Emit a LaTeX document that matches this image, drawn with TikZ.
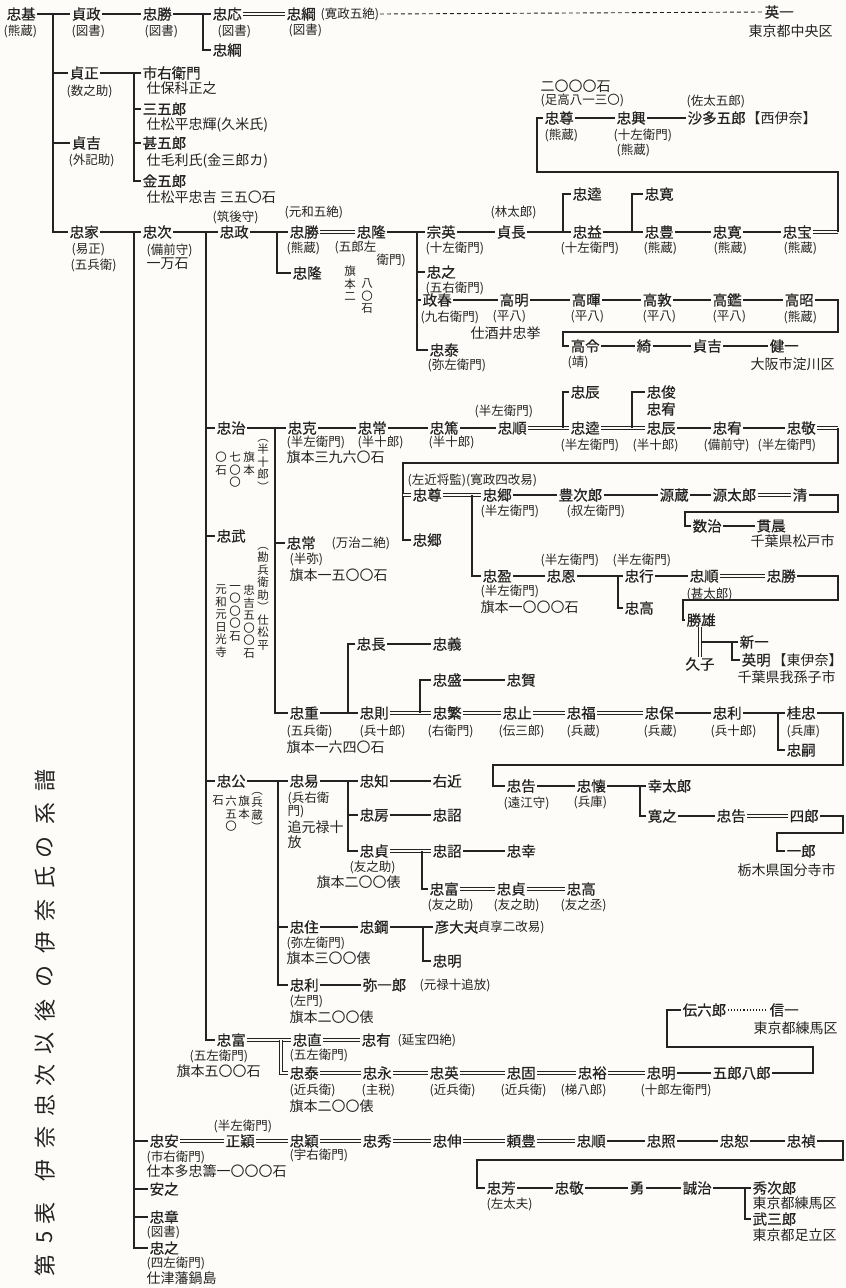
\documentclass[tikz,border=0pt]{standalone}
\usepackage{fontspec}
\setmainfont{Noto Sans CJK JP}
\newfontfamily\nmfont[FakeBold=0.6]{Noto Sans CJK JP}
\definecolor{paper}{RGB}{253,252,248}
\definecolor{ink}{RGB}{35,35,35}
\tikzset{
  nmst/.style={anchor=west,inner xsep=1.5pt,inner ysep=0pt,text=ink,font=\nmfont\fontsize{14.5}{14.5}\selectfont},
  anst/.style={anchor=west,inner xsep=0.5pt,inner ysep=0pt,text=ink,font=\fontsize{12.5}{12.5}\selectfont},
  ntst/.style={anchor=west,inner xsep=0.5pt,inner ysep=0pt,text=ink,font=\fontsize{14}{14}\selectfont},
  adst/.style={anchor=west,inner xsep=0.5pt,inner ysep=0pt,text=ink,font=\fontsize{14}{14}\selectfont},
  vtst/.style={anchor=north,inner sep=0pt,align=center,text=ink,font=\fontsize{11.5}{12.5}\selectfont},
  ttst/.style={rotate=90,inner sep=0pt,text=ink,font=\fontsize{22}{22}\selectfont},
  ln/.style={draw=ink,line width=1.1pt},
  dbl/.style={draw=ink,double=paper,double distance=1.4pt,line width=0.9pt},
}
\newcommand{\NN}[4]{\node[nmst] (#1) at (#2,#3) {#4};}
\newcommand{\AN}[4]{\node[anst] (#1) at (#2,#3) {#4};}
\newcommand{\NT}[4]{\node[ntst] (#1) at (#2,#3) {#4};}
\newcommand{\AD}[4]{\node[adst] (#1) at (#2,#3) {#4};}
\newcommand{\VT}[4]{\node[vtst] (#1) at (#2,#3) {#4};}
\newcommand{\BR}[3]{\draw[ln] (#1.east) -- (#1.east -| #2) |- (#3.west);}
\newcommand{\STR}[2]{\draw[ln] (#1.east) -- (#2.west);}
\newcommand{\DBL}[2]{\draw[dbl] (#1.east) -- (#2.west);}
\begin{document}
\begin{tikzpicture}[x=1pt,y=-1pt]
\fill[paper] (0,0) rectangle (846,1288);
\useasboundingbox (0,0) rectangle (846,1288);
% ---------- title ----------
\foreach \c/\yy in {譜/780,系/813,の/847,氏/877,奈/910,伊/942,の/976,後/1010,以/1043,次/1075,忠/1105,奈/1137,伊/1170,表/1213,5/1237,第/1265}
  \node[ttst] (tt\yy) at (45,\yy) {\c};
% ---------- junctions ----------
\coordinate (J1) at (53,0);   \coordinate (J2) at (203,0);  \coordinate (J3) at (134,0);
\coordinate (J4) at (206,0);  \coordinate (J5) at (277,0);  \coordinate (J6) at (417,0);
\coordinate (J7) at (563,0);  \coordinate (J8) at (632,0);  \coordinate (J9) at (275,0);
\coordinate (J10) at (563,0); \coordinate (J11) at (632,0); \coordinate (J12) at (472,0);
\coordinate (J13) at (618,0); \coordinate (J14) at (732,0); \coordinate (J15) at (348,0);
\coordinate (J16) at (420,0); \coordinate (J17) at (778,0); \coordinate (J18) at (640,0);
\coordinate (J19) at (278,0); \coordinate (J20) at (348,0); \coordinate (J21) at (422,0);
\coordinate (J22) at (423,0); \coordinate (J23) at (281,0); \coordinate (J24) at (745,0);
% ================= NODES =================
\NN{a1}{5}{14}{忠基}      \AN{a1a}{3}{31}{(熊蔵)}
\NN{a2}{70}{14}{貞政}     \AN{a2a}{71}{31}{(図書)}
\NN{a3}{141}{14}{忠勝}    \AN{a3a}{144}{31}{(図書)}
\NN{a4}{211}{14}{忠応}    \AN{a4a}{217}{31}{(図書)}
\NN{a5}{211}{50}{忠綱}
\NN{a6}{285}{14}{忠綱}    \AN{a6b}{320}{14}{(寛政五絶)} \AN{a6a}{288}{30}{(図書)}
\NN{a7}{763}{12}{英一}    \AD{a7a}{748}{31}{東京都中央区}
\NN{b1}{68}{73}{貞正}     \AN{b1a}{66}{91}{(数之助)}
\NN{b2}{141}{73}{市右衛門} \NT{b2a}{146}{88}{仕保科正之}
\NN{b3}{141}{109}{三五郎}  \NT{b3a}{146}{125}{仕松平忠輝(久米氏)}
\NN{b4}{141}{143}{甚五郎}  \NT{b4a}{146}{161}{仕毛利氏(金三郎カ)}
\NN{b5}{141}{181}{金五郎}  \NT{b5a}{146}{197}{仕松平忠吉 三五〇石}
\NN{b6}{70}{143}{貞吉}     \AN{b6a}{68}{160}{(外記助)}
\NN{c1}{68}{232}{忠家}    \AN{c1a}{71}{250}{(易正)} \AN{c1b}{70}{265}{(五兵衛)}
\NN{c2}{141}{232}{忠次}   \AN{c2a}{146}{250}{(備前守)} \NT{c2b}{146}{264}{一万石}
\NN{c3}{218}{232}{忠政}   \AN{c3a}{212}{217}{(筑後守)}
\NN{c4}{288}{232}{忠勝}   \AN{c4a}{284}{212}{(元和五絶)} \AN{c4b}{286}{248}{(熊蔵)}
\NN{c5}{355}{232}{忠隆}   \AN{c5a}{334}{247}{(五郎左} \AN{c5b}{376}{260}{衛門)}
\NN{c6}{291}{273}{忠隆}
\VT{c6n1}{350}{266}{旗\\本\\二}
\VT{c6n2}{367}{279}{八\\〇\\石}
\NN{c7}{425}{232}{宗英}   \AN{c7a}{425}{248}{(十左衛門)}
\NN{c8}{495}{232}{貞長}   \AN{c8a}{490}{212}{(林太郎)}
\NN{c9}{425}{272}{忠之}   \AN{c9a}{425}{288}{(五右衛門)}
\NN{c10}{421}{300}{政春}  \AN{c10a}{420}{317}{(九右衛門)}
\NN{c11}{498}{300}{高明}  \AN{c11a}{492}{317}{(平八)}
\NT{c11b}{470}{333}{仕酒井忠挙}
\NN{c12}{428}{350}{忠泰}  \AN{c12a}{427}{365}{(弥左衛門)}
\NN{d1}{571}{194}{忠逵}
\NN{d2}{571}{232}{忠益}   \AN{d2a}{560}{248}{(十左衛門)}
\NN{d3}{643}{194}{忠寛}
\NN{d4}{643}{232}{忠豊}   \AN{d4a}{643}{248}{(熊蔵)}
\NN{d5}{711}{232}{忠寛}   \AN{d5a}{713}{248}{(熊蔵)}
\NN{d6}{781}{232}{忠宝}   \AN{d6a}{783}{248}{(熊蔵)}
\NN{e1}{543}{118}{忠尊}   \AN{e1a}{544}{135}{(熊蔵)}
\NT{e1b}{540}{86}{二〇〇〇石} \AN{e1c}{540}{100}{(足高八一三〇)}
\NN{e2}{615}{118}{忠興}   \AN{e2a}{613}{135}{(十左衛門)} \AN{e2b}{616}{150}{(熊蔵)}
\NN{e3}{686}{118}{沙多五郎} \AD{e3b}{746}{118}{【西伊奈】} \AN{e3a}{686}{101}{(佐太五郎)}
\NN{f1}{570}{300}{高暉} \AN{f1a}{570}{317}{(平八)}
\NN{f2}{641}{300}{高敦} \AN{f2a}{642}{317}{(平八)}
\NN{f3}{711}{300}{高鑑} \AN{f3a}{712}{317}{(平八)}
\NN{f4}{783}{300}{高昭} \AN{f4a}{783}{317}{(熊蔵)}
\NN{g1}{569}{346}{高令} \AN{g1a}{567}{362}{(靖)}
\NN{g2}{635}{346}{綺} \NN{g3}{691}{346}{貞吉} \NN{g4}{768}{346}{健一}
\AD{g4a}{750}{364}{大阪市淀川区}
\NN{h1}{215}{428}{忠治}
\VT{h1v1}{263}{439}{︵\\半\\十\\郎\\︶}
\VT{h1v2}{249}{452}{旗\\本}
\VT{h1v3}{235}{452}{七\\〇\\〇}
\VT{h1v4}{221}{452}{〇\\石}
\NN{h2}{286}{428}{忠克} \AN{h2a}{286}{442}{(半左衛門)} \NT{h2b}{286}{457}{旗本三九六〇石}
\NN{h3}{356}{428}{忠常} \AN{h3a}{357}{442}{(半十郎)}
\NN{h4}{428}{428}{忠篤} \AN{h4a}{428}{442}{(半十郎)}
\NN{h5}{496}{428}{忠順} \AN{h5a}{474}{411}{(半左衛門)}
\NN{h6}{569}{392}{忠辰}
\NN{h7}{569}{428}{忠逵} \AN{h7a}{560}{445}{(半左衛門)}
\NN{h8}{645}{392}{忠俊} \NN{h9}{645}{409}{忠宥}
\NN{h10}{645}{428}{忠辰} \AN{h10a}{632}{445}{(半十郎)}
\NN{h11}{711}{428}{忠宥} \AN{h11a}{703}{445}{(備前守)}
\NN{h12}{785}{428}{忠敬} \AN{h12a}{757}{445}{(半左衛門)}
\NN{i1}{411}{495}{忠尊} \AN{i1a}{407}{480}{(左近将監)(寛政四改易)}
\NN{i2}{411}{540}{忠郷}
\NN{i3}{481}{495}{忠郷} \AN{i3a}{480}{511}{(半左衛門)}
\NN{i5}{557}{495}{豊次郎} \AN{i5a}{566}{511}{(叔左衛門)}
\NN{i6}{658}{495}{源蔵} \NN{i7}{711}{495}{源太郎} \NN{i8}{791}{495}{清}
\NN{i9}{691}{526}{数治} \NN{i10}{755}{526}{貫晨} \AD{i10a}{750}{541}{千葉県松戸市}
\NN{i4}{481}{576}{忠盈} \AN{i4a}{480}{591}{(半左衛門)} \NT{i4b}{480}{607}{旗本一〇〇〇石}
\NN{j1}{545}{576}{忠恩} \AN{j1a}{540}{560}{(半左衛門)}
\NN{j2}{623}{576}{忠行} \AN{j2a}{612}{560}{(半左衛門)}
\NN{j3}{623}{608}{忠高}
\NN{j4}{688}{576}{忠順} \AN{j4a}{686}{594}{(甚太郎)}
\NN{j5}{765}{576}{忠勝}
\NN{j6}{685}{620}{勝雄}
\node[nmst,anchor=center] (j7) at (700,664) {久子};
\NN{j8}{738}{642}{新一} \NN{j9}{740}{660}{英明} \AD{j9b}{772}{660}{【東伊奈】}
\AD{j9a}{737}{677}{千葉県我孫子市}
\NN{k1}{285}{543}{忠常} \AN{k1a}{331}{543}{(万治二絶)} \AN{k1b}{289}{559}{(半弥)} \NT{k1c}{289}{575}{旗本一五〇〇石}
\NN{k2}{288}{713}{忠重} \AN{k2a}{286}{731}{(五兵衛)} \NT{k2b}{286}{747}{旗本一六四〇石}
\NN{k3}{355}{644}{忠長} \NN{k4}{431}{644}{忠義}
\NN{k5}{358}{713}{忠則} \AN{k5a}{359}{731}{(兵十郎)}
\NN{k6}{431}{680}{忠盛} \NN{k7}{505}{680}{忠賀}
\NN{k8}{431}{713}{忠繁} \AN{k8a}{427}{731}{(右衛門)}
\NN{k9}{501}{713}{忠止} \AN{k9a}{498}{731}{(伝三郎)}
\NN{k10}{565}{713}{忠福} \AN{k10a}{566}{731}{(兵蔵)}
\NN{k11}{643}{713}{忠保} \AN{k11a}{643}{731}{(兵蔵)}
\NN{k12}{711}{713}{忠利} \AN{k12a}{710}{731}{(兵十郎)}
\NN{k13}{785}{713}{桂忠} \AN{k13a}{786}{731}{(兵庫)}
\NN{k14}{785}{750}{忠嗣}
\NN{l1}{505}{786}{忠告} \AN{l1a}{503}{803}{(遠江守)}
\NN{l2}{575}{786}{忠懐} \AN{l2a}{573}{802}{(兵庫)}
\NN{l3}{646}{786}{幸太郎} \NN{l4}{646}{816}{寛之} \NN{l5}{715}{816}{忠告} \NN{l6}{788}{816}{四郎}
\NN{l7}{785}{851}{一郎} \AD{l7a}{737}{870}{栃木県国分寺市}
\NN{t1}{215}{536}{忠武}
\VT{t1v1}{263}{547}{︵\\勘\\兵\\衛\\助\\︶\\仕\\松\\平}
\VT{t1v2}{249}{585}{忠\\吉\\五\\〇\\〇\\石}
\VT{t1v3}{235}{585}{一\\〇\\〇\\〇\\石}
\VT{t1v4}{221}{585}{元\\和\\元\\日\\光\\寺}
\NN{m1}{215}{781}{忠公}
\VT{m1v1}{257}{792}{︵\\兵\\蔵\\︶}
\VT{m1v2}{244}{796}{旗\\本}
\VT{m1v3}{231}{796}{六\\五\\〇}
\VT{m1v4}{218}{796}{石}
\NN{m2}{288}{781}{忠易} \AN{m2a}{287}{798}{(兵右衛} \AN{m2b}{287}{812}{門)} \NT{m2c}{287}{827}{追元禄十} \NT{m2d}{287}{842}{放}
\NN{m3}{358}{781}{忠知} \NN{m4}{431}{781}{右近}
\NN{m5}{358}{815}{忠房} \NN{m6}{431}{815}{忠詔}
\NN{m7}{358}{851}{忠貞} \AN{m7a}{349}{867}{(友之助)} \NT{m7b}{316}{882}{旗本二〇〇俵}
\NN{m8}{431}{851}{忠詔} \NN{m9}{505}{851}{忠幸}
\NN{m10}{428}{889}{忠富} \AN{m10a}{427}{905}{(友之助)}
\NN{m11}{495}{889}{忠貞} \AN{m11a}{493}{905}{(友之助)}
\NN{m12}{565}{889}{忠高} \AN{m12a}{560}{905}{(友之丞)}
\NN{m13}{288}{927}{忠住} \AN{m13a}{286}{943}{(弥左衛門)} \NT{m13b}{286}{958}{旗本三〇〇俵}
\NN{m14}{358}{927}{忠鋼}
\NN{m15}{433}{927}{彦大夫} \AN{m15a}{473}{927}{(貞享二改易)}
\NN{m16}{431}{961}{忠明}
\NN{m17}{288}{985}{忠利} \AN{m17a}{289}{1001}{(左門)} \NT{m17b}{289}{1017}{旗本二〇〇俵}
\NN{m18}{361}{985}{弥一郎} \AN{m18a}{419}{985}{(元禄十追放)}
\NN{p1}{215}{1040}{忠富} \AN{p1a}{189}{1056}{(五左衛門)} \NT{p1b}{176}{1071}{旗本五〇〇石}
\NN{p2}{291}{1040}{忠直} \AN{p2a}{289}{1055}{(五左衛門)}
\NN{p3}{360}{1040}{忠有} \AN{p3a}{397}{1040}{(延宝四絶)}
\NN{p4}{288}{1073}{忠泰} \AN{p4a}{289}{1090}{(近兵衛)} \NT{p4b}{289}{1106}{旗本二〇〇俵}
\NN{p5}{361}{1073}{忠永} \AN{p5a}{361}{1090}{(主税)}
\NN{p6}{428}{1073}{忠英} \AN{p6a}{429}{1090}{(近兵衛)}
\NN{p7}{505}{1073}{忠固} \AN{p7a}{500}{1090}{(近兵衛)}
\NN{p8}{576}{1073}{忠裕} \AN{p8a}{560}{1090}{(梯八郎)}
\NN{p9}{645}{1073}{忠明} \AN{p9a}{640}{1090}{(十郎左衛門)}
\NN{p10}{711}{1073}{五郎八郎}
\NN{p11}{681}{1010}{伝六郎} \NN{p12}{768}{1010}{信一} \AD{p12a}{753}{1028}{東京都練馬区}
\NN{q1}{148}{1141}{忠安} \AN{q1a}{146}{1157}{(市右衛門)} \NT{q1b}{146}{1171}{仕本多忠籌一〇〇〇石}
\NN{q2}{224}{1141}{正穎} \AN{q2a}{213}{1126}{(半左衛門)}
\NN{q3}{288}{1141}{忠穎} \AN{q3a}{289}{1155}{(宇右衛門)}
\NN{q4}{361}{1141}{忠秀} \NN{q5}{431}{1141}{忠伸} \NN{q6}{505}{1141}{頼豊}
\NN{q7}{575}{1141}{忠順} \NN{q8}{645}{1141}{忠照} \NN{q9}{718}{1141}{忠恕} \NN{q10}{785}{1141}{忠禎}
\NN{r1}{485}{1188}{忠芳} \AN{r1a}{486}{1204}{(左太夫)}
\NN{r2}{553}{1188}{忠敬} \NN{r3}{628}{1188}{勇} \NN{r4}{681}{1188}{誠治}
\NN{r5}{751}{1188}{秀次郎} \AD{r5a}{752}{1203}{東京都練馬区}
\NN{r6}{751}{1219}{武三郎} \AD{r6a}{752}{1235}{東京都足立区}
\NN{s1}{148}{1189}{安之}
\NN{s2}{148}{1217}{忠章} \AN{s2a}{146}{1232}{(図書)}
\NN{s3}{148}{1248}{忠之} \AN{s3a}{146}{1263}{(四左衛門)} \NT{s3b}{146}{1278}{仕津藩鍋島}
% ================= CONNECTORS =================
\BR{a1}{J1}{a2} \STR{a2}{a3} \BR{a3}{J2}{a4} \BR{a3}{J2}{a5} \DBL{a4}{a6}
\draw[ln,dash pattern=on 4pt off 3pt,line width=0.9pt] (a6b.east) -- (a7.west);
\BR{a1}{J1}{b1} \BR{a1}{J1}{b6}
\BR{b1}{J3}{b2} \BR{b1}{J3}{b3} \BR{b1}{J3}{b4} \BR{b1}{J3}{b5}
\BR{a1}{J1}{c1} \BR{c1}{J3}{c2} \BR{c2}{J4}{c3} \BR{c3}{J5}{c4} \BR{c3}{J5}{c6} \DBL{c4}{c5}
\BR{c5}{J6}{c7} \BR{c5}{J6}{c9} \BR{c5}{J6}{c10} \BR{c5}{J6}{c12} \STR{c7}{c8} \STR{c10}{c11}
\BR{c8}{J7}{d1} \BR{c8}{J7}{d2} \BR{d2}{J8}{d3} \BR{d2}{J8}{d4} \STR{d4}{d5} \STR{d5}{d6}
\coordinate (K1) at (838,172); \coordinate (K2) at (537,172);
\draw[dbl] (d6.east) -- (d6.east -| K1);
\draw[ln] (d6.east -| K1) -- (K1) -- (K2) |- (e1.west);
\STR{e1}{e2} \STR{e2}{e3}
\STR{c11}{f1} \STR{f1}{f2} \STR{f2}{f3} \STR{f3}{f4}
\coordinate (K3) at (838,332); \coordinate (K4) at (563,332);
\draw[ln] (f4.east) -| (K3) -- (K4) |- (g1.west);
\STR{g1}{g2} \STR{g2}{g3} \STR{g3}{g4}
\BR{c2}{J4}{h1} \BR{h1}{J9}{h2} \STR{h2}{h3} \STR{h3}{h4} \STR{h4}{h5}
\draw[dbl] (h5.east) -- (h7.west); \draw[ln] (h5.east -| J10) |- (h6.west);
\draw[dbl] (h7.east) -- (h10.west); \draw[ln] (h7.east -| J11) |- (h8.west);
\STR{h10}{h11} \STR{h11}{h12}
\coordinate (K5) at (838,463); \coordinate (K6) at (403,463);
\draw[dbl] (h12.east) -- (h12.east -| K5);
\draw[ln] (h12.east -| K5) -- (K5) -- (K6) |- (i2.west);
\draw[dbl] (K6 |- i1.west) -- (i1.west);
\draw[dbl] (i1.east) -- (i3.west); \draw[ln] (i1.east -| J12) |- (i4.west);
\STR{i3}{i5} \STR{i5}{i6} \STR{i6}{i7} \DBL{i7}{i8}
\coordinate (K7) at (838,512); \coordinate (K8) at (685,512);
\draw[ln] (i8.east) -| (K7) -- (K8) |- (i9.west);
\STR{i9}{i10}
\STR{i4}{j1} \BR{j1}{J13}{j2} \BR{j1}{J13}{j3} \STR{j2}{j4} \DBL{j4}{j5}
\coordinate (K9) at (838,600); \coordinate (K10) at (683,600);
\draw[ln] (j5.east) -| (K9) -- (K10) |- (j6.west);
\draw[dbl] (j7.north |- j6.south) -- (j7.north);
\coordinate (M1) at (702,642);
\draw[ln] (M1) -- (M1 -| J14) |- (j8.west); \draw[ln] (M1 -| J14) |- (j9.west);
\BR{h1}{J9}{k1} \BR{h1}{J9}{k2}
\BR{k2}{J15}{k3} \BR{k2}{J15}{k5} \STR{k3}{k4}
\draw[dbl] (k5.east) -- (k8.west); \draw[ln] (k5.east -| J16) |- (k6.west);
\STR{k6}{k7} \DBL{k8}{k9} \DBL{k9}{k10} \DBL{k10}{k11} \STR{k11}{k12}
\BR{k12}{J17}{k13} \BR{k12}{J17}{k14}
\coordinate (K11) at (843,765); \coordinate (K12) at (493,765);
\draw[ln] (k13.east) -| (K11) -- (K12) |- (l1.west);
\STR{l1}{l2} \BR{l2}{J18}{l3} \BR{l2}{J18}{l4} \STR{l4}{l5} \DBL{l5}{l6}
\coordinate (K13) at (843,833); \coordinate (K14) at (777,833);
\draw[ln] (l6.east) -| (K13) -- (K14) |- (l7.west);
\BR{c2}{J4}{t1}
\BR{c2}{J4}{m1} \BR{m1}{J19}{m2}
\BR{m2}{J20}{m3} \BR{m2}{J20}{m5} \BR{m2}{J20}{m7} \STR{m3}{m4} \STR{m5}{m6}
\draw[dbl] (m7.east) -- (m8.west); \draw[ln] (m7.east -| J21) |- (m10.west);
\STR{m8}{m9} \DBL{m10}{m11} \DBL{m11}{m12}
\BR{m1}{J19}{m13} \STR{m13}{m14} \BR{m14}{J22}{m15} \BR{m14}{J22}{m16}
\BR{m1}{J19}{m17} \STR{m17}{m18}
\BR{c2}{J4}{p1}
\draw[dbl] (p1.east) -- (p2.west); \draw[dbl] (p1.east -| J23) |- (p4.west); \DBL{p2}{p3}
\DBL{p4}{p5} \DBL{p5}{p6} \DBL{p6}{p7} \DBL{p7}{p8} \DBL{p8}{p9} \STR{p9}{p10}
\coordinate (K15) at (813,1047); \coordinate (K16) at (667,1047);
\draw[ln] (p10.east) -| (K15) -- (K16) |- (p11.west);
\draw[ln,dotted,line width=1.3pt] (p11.east) -- (p12.west);
\BR{c1}{J3}{q1}
\DBL{q1}{q2} \DBL{q2}{q3} \DBL{q3}{q4} \DBL{q4}{q5} \DBL{q5}{q6} \DBL{q6}{q7}
\STR{q7}{q8} \STR{q8}{q9} \STR{q9}{q10}
\coordinate (K17) at (843,1160); \coordinate (K18) at (477,1160);
\draw[ln] (q10.east) -| (K17) -- (K18) |- (r1.west);
\STR{r1}{r2} \STR{r2}{r3} \STR{r3}{r4}
\BR{r4}{J24}{r5} \BR{r4}{J24}{r6}
\BR{c1}{J3}{s1} \BR{c1}{J3}{s2} \BR{c1}{J3}{s3}
\end{tikzpicture}
\end{document}
